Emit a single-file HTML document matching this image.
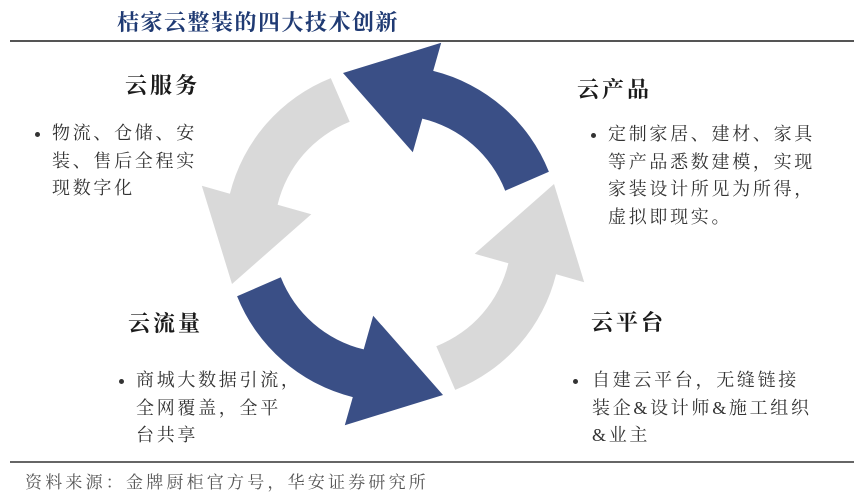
<!DOCTYPE html>
<html><head><meta charset="utf-8"><style>
html,body{margin:0;padding:0;background:#fff;}
body{width:864px;height:504px;position:relative;overflow:hidden;font-family:"Liberation Serif","Noto Serif CJK SC",serif;color:#222;}
.t{position:absolute;white-space:nowrap;}
.h{font-size:22px;letter-spacing:3px;font-weight:bold;line-height:28px;color:#1a1a1a;}
.b{font-size:18px;letter-spacing:2.7px;line-height:27.5px;color:#333;}
.dot{position:absolute;width:5px;height:5px;border-radius:50%;background:#333;}
</style></head><body>
<div class="t" style="left:117px;top:8px;font-size:22px;font-weight:bold;color:#1f3a73;letter-spacing:1.5px;line-height:30px;">桔家云整装的四大技术创新</div>
<div style="position:absolute;left:10px;top:40px;width:844px;height:2px;background:#555;"></div>
<div style="position:absolute;left:10px;top:461px;width:844px;height:2px;background:#666;"></div>
<div class="t" style="left:25px;top:470px;font-size:17px;letter-spacing:3.2px;line-height:26px;color:#555;">资料来源：金牌厨柜官方号，华安证券研究所</div>

<svg width="864" height="504" style="position:absolute;left:0;top:0;">
<defs>
<path id="arr" d="M505.2,190.7 L548.9,171.8 A168,168 0 0 0 433.2,70.9 L441.2,42.8 L343,73 L412.8,152.3 L422.3,118.6 A119,119 0 0 1 505.2,190.7 Z"/>
</defs>
<use href="#arr" fill="#3a4f86"/>
<use href="#arr" fill="#3a4f86" transform="rotate(180 393 234)"/>
<use href="#arr" fill="#d9d9d9" transform="rotate(90 393 234)"/>
<use href="#arr" fill="#d9d9d9" transform="rotate(270 393 234)"/>
</svg>

<div class="t h" style="left:125px;top:72px;">云服务</div>
<div class="dot" style="left:35px;top:132px;"></div>
<div class="t b" style="left:52px;top:120px;">物流、仓储、安<br>装、售后全程实<br>现数字化</div>

<div class="t h" style="left:577px;top:76px;">云产品</div>
<div class="dot" style="left:591px;top:133px;"></div>
<div class="t b" style="left:608px;top:121px;">定制家居、建材、家具<br>等产品悉数建模，实现<br>家装设计所见为所得，<br>虚拟即现实。</div>

<div class="t h" style="left:128px;top:310px;">云流量</div>
<div class="dot" style="left:119px;top:379px;"></div>
<div class="t b" style="left:136px;top:367px;">商城大数据引流，<br>全网覆盖，全平<br>台共享</div>

<div class="t h" style="left:591px;top:309px;">云平台</div>
<div class="dot" style="left:573px;top:379px;"></div>
<div class="t b" style="left:592px;top:367px;">自建云平台，无缝链接<br>装企&amp;设计师&amp;施工组织<br>&amp;业主</div>
</body></html>
